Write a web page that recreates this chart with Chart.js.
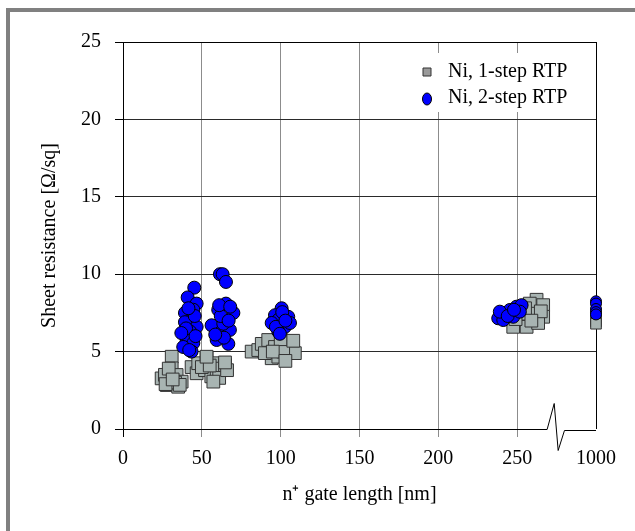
<!DOCTYPE html>
<html>
<head>
<meta charset="utf-8">
<script src="https://cdn.jsdelivr.net/npm/chart.js@4.4.0/dist/chart.umd.min.js"></script>
<style>
  html, body { margin: 0; padding: 0; background: #fff; overflow: hidden; }
  #frame { position: absolute; left: 6px; top: 8px; width: 625px; height: 519px;
           border-top: 4px solid #808080; border-left: 4px solid #808080; }
  #wrap { position: absolute; left: 0; top: 0; width: 635px; height: 531px; }
</style>
</head>
<body>
<div id="frame"></div>
<div id="wrap"><canvas id="chart" width="635" height="531"></canvas></div>
<script>
(function () {
  'use strict';

  var SERIF = '"Liberation Serif", "Times New Roman", serif';

  // ---- axis setup: the x axis is broken after 250, last tick is 1000 ----
  var xTickLabels = ['0', '50', '100', '150', '200', '250', '1000'];
  var X_BREAK_VALUE = 1000;
  var X_BREAK_POS = 300;

  // ---- Ni, 1-step RTP (gate length nm, sheet resistance ohm/sq) ----
  var oneStepX = [
    24.5, 26.6, 27.7, 30.9, 30.9, 32, 34, 35, 37.2, 29, 33, 27, 36, 31.5,
    43.5, 46.7, 47.7, 53, 52, 56, 58.3, 59.4, 62.6, 64.7, 61, 50, 55, 66, 57.3, 53, 64.7,
    81.6, 85.8, 88, 92.1, 96.4, 94.3, 98.5, 104.8, 107, 109, 90, 101.6, 100, 95, 103, 108,
    262.3, 266.5, 258, 260.2, 266.5, 253.8, 247.5, 256, 263.3, 251.7, 255, 249, 265, 259,
    1000, 1000, 1000
  ];
  var oneStepY = [
    3.27, 3.5, 2.84, 4.67, 3.92, 3.3, 3.49, 2.73, 3.06, 3.9, 3.0, 2.9, 2.85, 3.2,
    4.0, 3.6, 4.25, 4.6, 3.8, 3.4, 4.25, 3.6, 3.9, 4.13, 3.3, 4.0, 4.1, 3.8, 3.06, 4.67, 4.3,
    5.0, 5.1, 5.5, 5.75, 5.3, 4.57, 4.67, 5.6, 5.1, 4.9, 4.9, 5.0, 5.8, 5.0, 4.4, 5.7,
    8.35, 8.0, 8.1, 7.45, 7.25, 7.05, 6.6, 6.6, 6.85, 7.45, 7.8, 7.1, 7.6, 7.0,
    7.1, 6.95, 6.8
  ];

  // ---- Ni, 2-step RTP ----
  var twoStepX = [
    45.2, 41, 46.7, 44.6, 39.3, 43.5, 39.3, 46.7, 42.5, 40.4, 44.6, 38.2, 43.5, 45.5, 41.5, 40, 46, 42, 37,
    61.5, 63.2, 65.3, 65.3, 60.4, 70, 56.2, 62.6, 67.8, 59.4, 66.8, 63.6, 62, 67, 64, 58.5, 61, 68,
    100.6, 96.4, 104.8, 98.5, 94.3, 102.7, 98.5, 105.9, 101, 97, 103, 99.5,
    238, 242.2, 245.4, 249.6, 252.8, 241.2, 247.5, 251.7, 239, 244, 248,
    1000, 1000, 1000, 1000, 1000
  ];
  var twoStepY = [
    9.13, 8.5, 8.1, 7.7, 7.5, 7.05, 6.9, 6.6, 6.3, 5.75, 5.55, 5.3, 5.0, 7.3, 7.8, 6.5, 6.0, 5.1, 6.2,
    10.0, 10.0, 9.5, 8.1, 7.7, 7.5, 6.7, 6.3, 6.4, 5.75, 5.5, 6.8, 7.3, 7.0, 5.9, 6.1, 8.0, 7.9,
    7.8, 7.35, 7.25, 7.05, 6.85, 6.6, 6.3, 6.85, 7.55, 6.6, 7.0, 6.15,
    7.15, 7.47, 7.69, 7.9, 8.0, 7.04, 7.25, 7.58, 7.58, 7.3, 7.7,
    8.25, 8.1, 7.75, 7.55, 7.4
  ];

  var yTickStep = 5;

  function axisPos(v) { return v >= X_BREAK_VALUE ? X_BREAK_POS : v; }

  function toPoints(xs, ys) {
    return xs.map(function (x, i) { return { x: axisPos(x), y: ys[i] }; });
  }

  // markers in the narrow 1000 nm column are drawn a bit smaller
  function markerRadius(base, small) {
    return function (c) { return c.raw && c.raw.x === X_BREAK_POS ? small : base; };
  }

  // ---- broken bottom axis with a zig-zag ----
  var brokenAxis = {
    id: 'brokenAxis',
    beforeDatasetsDraw: function (chart) {
      var ctx = chart.ctx, a = chart.chartArea, xs = chart.scales.x;
      var p = function (v) { return xs.getPixelForValue(v); };
      var b = Math.round(a.bottom) + 0.5;
      ctx.save();
      ctx.strokeStyle = '#000';
      ctx.lineWidth = 1;
      ctx.beginPath();
      ctx.moveTo(a.left, b);
      ctx.lineTo(p(269), b);
      ctx.lineTo(p(273.5), b - 26);
      ctx.lineTo(p(276), b + 21);
      ctx.lineTo(p(280), b + 1);
      ctx.lineTo(a.right, b + 1);
      ctx.stroke();
      ctx.restore();
    }
  };

  // ---- legend box in the upper right of the plot ----
  var legendBox = {
    id: 'legendBox',
    beforeDatasetsDraw: function (chart) {
      var ctx = chart.ctx, a = chart.chartArea;
      var left = a.right - 184, top = a.top + 11;
      ctx.save();
      ctx.fillStyle = '#fff';
      ctx.fillRect(left, top, 183, 59);
      ctx.font = '20px ' + SERIF;
      ctx.textBaseline = 'alphabetic';
      ctx.textAlign = 'left';
      var order = [1, 0];
      order.forEach(function (di, row) {
        var ds = chart.data.datasets[di];
        var mx = a.left + 304, my = a.top + 30 + row * 27;
        ctx.fillStyle = ds.legendColor;
        ctx.strokeStyle = ds.borderColor;
        ctx.lineWidth = 1;
        ctx.beginPath();
        if (ds.pointStyle === 'rect') {
          ctx.rect(mx - 4, my - 4, 8, 8);
        } else {
          ctx.ellipse(mx, my, 4.5, 6, 0, 0, Math.PI * 2);
        }
        ctx.fill();
        ctx.stroke();
        ctx.fillStyle = '#000';
        ctx.fillText(ds.label, a.left + 325, a.top + 35 + row * 26);
      });
      ctx.restore();
    }
  };

  var transparent = 'rgba(0,0,0,0)';

  new Chart(document.getElementById('chart').getContext('2d'), {
    type: 'scatter',
    data: {
      datasets: [
        {
          label: 'Ni, 2-step RTP',
          data: toPoints(twoStepX, twoStepY),
          pointStyle: 'circle',
          pointRadius: markerRadius(6.5, 5.5),
          pointHoverRadius: markerRadius(6.5, 5.5),
          backgroundColor: '#0000ff',
          legendColor: '#0000ff',
          borderColor: '#000',
          borderWidth: 1,
          clip: false,
          order: 1
        },
        {
          label: 'Ni, 1-step RTP',
          data: toPoints(oneStepX, oneStepY),
          pointStyle: 'rect',
          pointRadius: markerRadius(9, 7.5),
          pointHoverRadius: markerRadius(9, 7.5),
          backgroundColor: '#a8b4b2',
          legendColor: '#9a9a9a',
          borderColor: '#333',
          borderWidth: 1,
          clip: false,
          order: 2
        }
      ]
    },
    options: {
      responsive: false,
      animation: false,
      events: [],
      layout: { padding: { top: 42, right: 39, left: 0, bottom: 0 } },
      plugins: {
        legend: { display: false },
        tooltip: { enabled: false }
      },
      scales: {
        x: {
          type: 'linear',
          min: 0,
          max: X_BREAK_POS,
          afterFit: function (s) { s.height = 102; },
          ticks: {
            stepSize: 50,
            autoSkip: false,
            maxRotation: 0,
            padding: 10,
            color: '#000',
            font: { family: SERIF, size: 20 },
            callback: function (v, i) { return xTickLabels[i]; }
          },
          grid: {
            lineWidth: 1,
            tickLength: 8,
            color: function (c) {
              var v = c.tick && c.tick.value;
              return (v === 0 || v === X_BREAK_POS) ? '#000' : '#8c8c8c';
            },
            tickColor: function (c) {
              var v = c.tick && c.tick.value;
              if (v === X_BREAK_POS) return transparent;
              return v === 0 ? '#000' : '#8c8c8c';
            }
          },
          border: { display: false },
          title: {
            display: true,
            text: 'n\u207A gate length [nm]',
            color: '#000',
            font: { family: SERIF, size: 20 },
            padding: { top: 0, bottom: 24 }
          }
        },
        y: {
          min: 0,
          max: 25,
          afterFit: function (s) { s.width = 123; },
          ticks: {
            stepSize: yTickStep,
            padding: 14,
            color: '#000',
            font: { family: SERIF, size: 20 }
          },
          grid: {
            lineWidth: 1,
            tickLength: 8,
            color: function (c) {
              var v = c.tick && c.tick.value;
              if (v === 0) return transparent;
              return v === 25 ? '#000' : '#2a2a2a';
            },
            tickColor: '#000'
          },
          border: { display: true, color: '#000', width: 1 },
          title: {
            display: true,
            text: 'Sheet resistance [\u03A9/sq]',
            color: '#000',
            font: { family: SERIF, size: 20 },
            padding: { top: 38, bottom: 0 }
          }
        }
      }
    },
    plugins: [brokenAxis, legendBox]
  });
})();
</script>
</body>
</html>
